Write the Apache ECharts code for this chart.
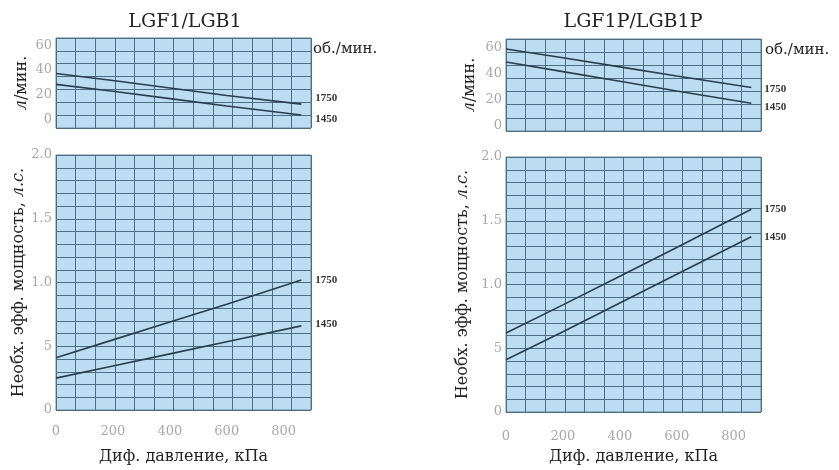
<!DOCTYPE html>
<html>
<head>
<meta charset="utf-8">
<style>html,body{margin:0;padding:0;width:839px;height:470px;background:#fff;overflow:hidden;}#chart{width:839px;height:470px;}</style>
<script src="https://cdn.jsdelivr.net/npm/echarts@6/dist/echarts.min.js"></script>
</head>
<body>
<div id="chart"></div>
<script>
// pressure points along the curves, kPa
const pressure = [0, 200, 400, 600, 862];
const kpaTicks = [0, 200, 400, 600, 800];
const flowTicks = [0, 20, 40, 60];
const powerTicks = [0, 0.5, 1.0, 1.5, 2.0];

// LGF1/LGB1
const flowA1750 = [37.2, 31.5, 25.5, 19.3, 12.4];
const flowA1450 = [28.4, 22.8, 16.8, 10.8, 3.6];
const powerA1750 = [0.41, 0.55, 0.69, 0.83, 1.02];
const powerA1450 = [0.25, 0.345, 0.44, 0.535, 0.66];

// LGF1P/LGB1P
const flowB1750 = [59.3, 52.5, 45.5, 38.5, 29.6];
const flowB1450 = [49.3, 41.8, 34.4, 26.9, 17.4];
const powerB1750 = [0.62, 0.84, 1.065, 1.29, 1.59];
const powerB1450 = [0.41, 0.63, 0.855, 1.08, 1.375];

const serif = "'DejaVu Serif', 'Liberation Serif', serif";
const narrow = "'Liberation Serif', serif";
const gridColor = '#4d6d84';
const lineColor = '#2a3e4e';
const tickColor = '#a8a8a8';

const grids = [
  { left: 56, top: 38, width: 255, height: 90 },
  { left: 56, top: 155, width: 255, height: 260 },
  { left: 506, top: 39, width: 255, height: 92 },
  { left: 506, top: 157, width: 255, height: 260 }
].map(g => Object.assign(g, {
  show: true, backgroundColor: '#bcdcf1', borderColor: '#6a8aa0', borderWidth: 1
}));

function kpaAxis(gi, showLabels, margin, gap) {
  return {
    type: 'value', gridIndex: gi, position: 'bottom', min: 0, max: 896,
    axisLine: { show: false }, axisTick: { show: false }, splitLine: { show: false },
    axisLabel: { show: showLabels, customValues: kpaTicks, margin: margin,
      color: tickColor, fontFamily: serif, fontSize: 13 },
    name: showLabels ? 'Диф. давление, кПа' : '', nameLocation: 'middle', nameGap: gap,
    nameMoveOverlap: false,
    nameTextStyle: { color: '#222', fontFamily: serif, fontSize: 16, verticalAlign: 'middle' }
  };
}
function psiAxis(gi) {
  // grid columns drawn every 10 psi
  return {
    type: 'value', gridIndex: gi, position: 'top', min: 0, max: 130, interval: 10,
    axisLine: { show: false }, axisTick: { show: false }, axisLabel: { show: false },
    splitLine: { show: true, lineStyle: { color: gridColor, width: 1 } }
  };
}
function rowAxis(gi, rows) {
  return {
    type: 'value', gridIndex: gi, position: 'right', min: 0, max: rows, interval: 1,
    axisLine: { show: false }, axisTick: { show: false }, axisLabel: { show: false },
    splitLine: { show: true, lineStyle: { color: gridColor, width: 1 } }
  };
}
const nameStyle = {
  color: '#222', fontFamily: serif, fontSize: 16, verticalAlign: 'middle',
  rich: { i: { fontStyle: 'italic', fontFamily: serif, fontSize: 16, color: '#222' } }
};
function flowAxis(gi, min, max, gap) {
  return {
    type: 'value', gridIndex: gi, position: 'left', min: min, max: max,
    axisLine: { show: false }, axisTick: { show: false }, splitLine: { show: false },
    axisLabel: { customValues: flowTicks, margin: 4, color: tickColor, fontFamily: serif, fontSize: 13 },
    name: '{i|л}/мин.', nameLocation: 'middle', nameRotate: 90, nameGap: gap,
    nameMoveOverlap: false, nameTextStyle: nameStyle
  };
}
function powerAxis(gi, gap) {
  return {
    type: 'value', gridIndex: gi, position: 'left', min: 0, max: 2,
    axisLine: { show: false }, axisTick: { show: false }, splitLine: { show: false },
    axisLabel: { customValues: powerTicks, margin: 4, color: tickColor, fontFamily: serif, fontSize: 13,
      formatter: v => v === 0 ? '0' : (v === 0.5 ? '5' : v.toFixed(1)) },
    name: 'Необх. эфф. мощность, {i|л.с.}', nameLocation: 'middle', nameRotate: 90, nameGap: gap,
    nameMoveOverlap: false, nameTextStyle: nameStyle
  };
}

function curve(xi, yi, values, label, dx, dy) {
  return {
    type: 'line', xAxisIndex: xi, yAxisIndex: yi, symbol: 'none', silent: true,
    data: pressure.map((p, i) => [p, values[i]]),
    lineStyle: { color: lineColor, width: 1.6 },
    endLabel: { show: true, formatter: label, distance: dx, offset: [0, dy],
      color: '#333', fontFamily: narrow, fontSize: 11, fontWeight: 'bold' }
  };
}

const option = {
  animation: false,
  backgroundColor: '#fff',
  title: [
    { text: 'LGF1/LGB1', left: 185, top: 13, textAlign: 'center', padding: 0,
      textStyle: { fontFamily: serif, fontSize: 19, fontWeight: 'normal', color: '#222' } },
    { text: 'LGF1P/LGB1P', left: 633, top: 13, textAlign: 'center', padding: 0,
      textStyle: { fontFamily: serif, fontSize: 19, fontWeight: 'normal', color: '#222' } }
  ],
  grid: grids,
  xAxis: [
    kpaAxis(0, false, 15, 47), psiAxis(0),
    kpaAxis(1, true, 15, 47), psiAxis(1),
    kpaAxis(2, false, 18, 45), psiAxis(2),
    kpaAxis(3, true, 18, 45), psiAxis(3)
  ],
  yAxis: [
    flowAxis(0, -7, 66, 34), rowAxis(0, 7),
    powerAxis(1, 37), rowAxis(1, 20),
    flowAxis(2, -4, 67, 36), rowAxis(2, 7),
    powerAxis(3, 43), rowAxis(3, 20)
  ],
  graphic: [
    { type: 'text', x: 313, y: 49, style: { text: 'об./мин.', font: '15px ' + serif, fill: '#222', verticalAlign: 'middle' } },
    { type: 'text', x: 765, y: 50, style: { text: 'об./мин.', font: '15px ' + serif, fill: '#222', verticalAlign: 'middle' } }
  ],
  series: [
    curve(0, 0, flowA1750, '1750', 14, -6),
    curve(0, 0, flowA1450, '1450', 14, 4),
    curve(2, 2, powerA1750, '1750', 14, 0),
    curve(2, 2, powerA1450, '1450', 14, -2),
    curve(4, 4, flowB1750, '1750', 13, 2),
    curve(4, 4, flowB1450, '1450', 13, 4),
    curve(6, 6, powerB1750, '1750', 13, 0),
    curve(6, 6, powerB1450, '1450', 13, 0)
  ]
};

const chart = echarts.init(document.getElementById('chart'), null, { renderer: 'canvas', width: 839, height: 470 });
chart.setOption(option);
</script>
</body>
</html>
